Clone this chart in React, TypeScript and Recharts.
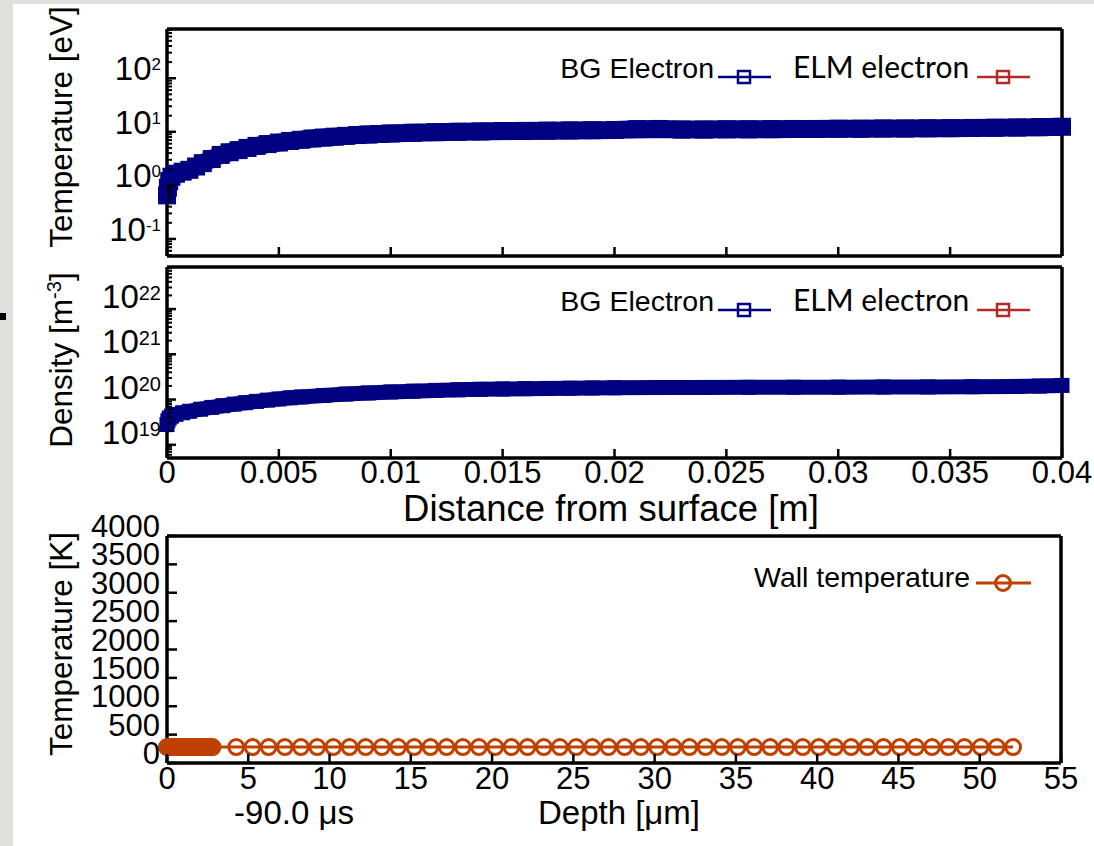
import React from 'react';
import { ScatterChart, Scatter, XAxis, YAxis, Legend } from 'recharts';

const FONT = '"Liberation Sans", Arial, Helvetica, sans-serif';
const ELM_FONT = 'Lato, "Open Sans", sans-serif';
const NAVY = '#000080';
const ELM_RED = '#b22a2a';
const WALL = '#c04000';
const BLACK = '#000';
const PAGE_GRAY = '#e0e0dc';

// ---------------- data ----------------
// Background electron temperature [eV] vs distance from surface [m]
const teDistance = [0, 0.00004, 0.0001, 0.0002, 0.0004, 0.0007, 0.001, 0.0013, 0.0016, 0.002, 0.0024, 0.0028, 0.0032, 0.0036, 0.004, 0.0045, 0.005, 0.0055, 0.006, 0.0065, 0.007, 0.0075, 0.008, 0.0085, 0.009, 0.0095, 0.01, 0.011, 0.012, 0.013, 0.014, 0.015, 0.016, 0.017, 0.018, 0.019, 0.02, 0.021, 0.022, 0.023, 0.024, 0.025, 0.026, 0.027, 0.028, 0.029, 0.03, 0.031, 0.032, 0.033, 0.034, 0.035, 0.036, 0.037, 0.038, 0.039, 0.04];
const teBG = [0.65, 0.9, 1.2, 1.45, 1.65, 1.8, 1.95, 2.25, 2.6, 3.1, 3.7, 4.15, 4.55, 5.0, 5.45, 5.9, 6.3, 6.75, 7.1, 7.5, 7.8, 8.1, 8.4, 8.7, 8.9, 9.1, 9.3, 9.6, 9.85, 10.0, 10.15, 10.3, 10.4, 10.5, 10.6, 10.7, 10.8, 11.2, 11.3, 11.0, 11.0, 11.1, 11.1, 11.2, 11.3, 11.3, 11.4, 11.4, 11.5, 11.5, 11.6, 11.7, 11.8, 11.9, 12.0, 12.2, 12.4];

// Background electron density [m^-3] vs distance from surface [m]
const neDistance = [0, 0.00004, 0.0001, 0.0002, 0.0004, 0.0007, 0.001, 0.0015, 0.002, 0.0025, 0.003, 0.0035, 0.004, 0.0045, 0.005, 0.0055, 0.006, 0.007, 0.008, 0.009, 0.01, 0.011, 0.012, 0.013, 0.014, 0.015, 0.016, 0.017, 0.018, 0.019, 0.02, 0.022, 0.024, 0.026, 0.028, 0.03, 0.032, 0.034, 0.036, 0.038, 0.039, 0.04];
const neBG = [2.8e19, 3.4e19, 3.9e19, 4.3e19, 4.7e19, 5.1e19, 5.5e19, 6.1e19, 6.7e19, 7.3e19, 7.9e19, 8.5e19, 9.1e19, 9.7e19, 1.03e20, 1.09e20, 1.14e20, 1.23e20, 1.32e20, 1.4e20, 1.47e20, 1.53e20, 1.59e20, 1.64e20, 1.68e20, 1.71e20, 1.74e20, 1.76e20, 1.78e20, 1.8e20, 1.82e20, 1.84e20, 1.85e20, 1.86e20, 1.87e20, 1.88e20, 1.89e20, 1.9e20, 1.92e20, 1.95e20, 1.98e20, 2.05e20];

// Wall temperature [K] vs depth [um]
const wallDepth = [0, 0.1, 0.2, 0.3, 0.4, 0.5, 0.6, 0.7, 0.8, 0.9, 1.0, 1.1, 1.2, 1.3, 1.4, 1.5, 1.6, 1.7, 1.8, 1.9, 2.0, 2.1, 2.2, 2.3, 2.4, 2.5, 2.6, 2.7, 2.8, 4.26, 5.26, 6.25, 7.25, 8.24, 9.24, 10.23, 11.23, 12.22, 13.22, 14.22, 15.21, 16.21, 17.2, 18.2, 19.19, 20.19, 21.19, 22.18, 23.18, 24.17, 25.17, 26.16, 27.16, 28.15, 29.15, 30.15, 31.14, 32.14, 33.13, 34.13, 35.12, 36.12, 37.11, 38.11, 39.11, 40.1, 41.1, 42.09, 43.09, 44.08, 45.08, 46.08, 47.07, 48.07, 49.06, 50.06, 51.05, 52.05];
const wallTemperature = [
  280, 280, 280, 280, 280, 280, 280, 280, 280, 280,
  280, 280, 280, 280, 280, 280, 280, 280, 280, 280,
  280, 280, 280, 280, 280, 280, 280, 280, 280, 280,
  280, 280, 280, 280, 280, 280, 280, 280, 280, 280,
  280, 280, 280, 280, 280, 280, 280, 280, 280, 280,
  280, 280, 280, 280, 280, 280, 280, 280, 280, 280,
  280, 280, 280, 280, 280, 280, 280, 280, 280, 280,
  280, 280, 280, 280, 280, 280, 280, 280,
];

// ---------------- ticks ----------------
const distanceTicks = [0, 0.005, 0.01, 0.015, 0.02, 0.025, 0.03, 0.035, 0.04];
const distanceTickLabels = ['0', '0.005', '0.01', '0.015', '0.02', '0.025', '0.03', '0.035', '0.04'];
const teDecades = [0.1, 1, 10, 100];
const teExponents = ['-1', '0', '1', '2'];
const neDecades = [1e19, 1e20, 1e21, 1e22];
const neExponents = ['19', '20', '21', '22'];
const depthTicks = [0, 5, 10, 15, 20, 25, 30, 35, 40, 45, 50, 55];
const depthTickLabels = ['0', '5', '10', '15', '20', '25', '30', '35', '40', '45', '50', '55'];
const wallTempTicks = [0, 500, 1000, 1500, 2000, 2500, 3000, 3500, 4000];
const wallTempTickLabels = ['0', '500', '1000', '1500', '2000', '2500', '3000', '3500', '4000'];

const TE_DOMAIN: [number, number] = [0.048, 830];
const NE_DOMAIN: [number, number] = [5.1e18, 8.5e22];

function logTicks(domain: [number, number]): number[] {
  const out: number[] = [];
  const lo = Math.floor(Math.log10(domain[0]));
  const hi = Math.ceil(Math.log10(domain[1]));
  for (let e = lo; e <= hi; e++) {
    for (let m = 1; m <= 9; m++) {
      const v = Number((m * Math.pow(10, e)).toPrecision(6));
      if (v >= domain[0] && v <= domain[1]) out.push(v);
    }
  }
  return out;
}
const teTicks = logTicks(TE_DOMAIN);
const neTicks = logTicks(NE_DOMAIN);

const teData = teDistance.map((x, i) => ({ x, y: teBG[i] }));
const neData = neDistance.map((x, i) => ({ x, y: neBG[i] }));
const wallData = wallDepth.map((x, i) => ({ x, y: wallTemperature[i] }));

const findIdx = (arr: number[], v: number) =>
  arr.findIndex((a) => Math.abs(a - v) <= Math.abs(a) * 1e-9 + 1e-12);

// ---------------- tick renderers ----------------
const logLeftTick = (decades: number[], exps: string[], supSize: number, supRise: number, baseShift: number) =>
  (p: any) => {
    const i = findIdx(decades, p.payload.value);
    const major = i >= 0;
    return (
      <g>
        <line x1={p.x} x2={p.x + (major ? 9 : 5)} y1={p.y} y2={p.y} stroke={BLACK} strokeWidth={major ? 2.5 : 2} />
        {major && (
          <text x={p.x - 6} y={p.y + baseShift} textAnchor="end" fontFamily={FONT} fontSize={33} fill={BLACK}>
            10
            <tspan dy={-supRise} fontSize={supSize}>{exps[i]}</tspan>
          </text>
        )}
      </g>
    );
  };

const logRightTick = (decades: number[]) => (p: any) => {
  const major = findIdx(decades, p.payload.value) >= 0;
  return <line x1={p.x} x2={p.x - (major ? 9 : 5)} y1={p.y} y2={p.y} stroke={BLACK} strokeWidth={major ? 2.5 : 2} />;
};

const leftLinTick = (values: number[], labels: string[], len: number) => (p: any) => {
  const i = findIdx(values, p.payload.value);
  return (
    <g>
      <line x1={p.x} x2={p.x + len} y1={p.y} y2={p.y} stroke={BLACK} strokeWidth={2.5} />
      <text x={p.x - 7} y={p.y + 1} textAnchor="end" fontFamily={FONT} fontSize={31} fill={BLACK}>
        {labels[i]}
      </text>
    </g>
  );
};

const rightLinTick = (len: number) => (p: any) => (
  <line x1={p.x} x2={p.x - len} y1={p.y} y2={p.y} stroke={BLACK} strokeWidth={2.5} />
);

const topTick = (len: number) => (p: any) => (
  <line x1={p.x} x2={p.x} y1={p.y} y2={p.y + len} stroke={BLACK} strokeWidth={2.5} />
);

const bottomTick = (len: number, values?: number[], labels?: string[], labelDy = 25) => (p: any) => {
  const i = values ? findIdx(values, p.payload.value) : -1;
  return (
    <g>
      <line x1={p.x} x2={p.x} y1={p.y} y2={p.y - len} stroke={BLACK} strokeWidth={2.5} />
      {labels && i >= 0 && (
        <text x={p.x} y={p.y + labelDy} textAnchor="middle" fontFamily={FONT} fontSize={31} fill={BLACK}>
          {labels[i]}
        </text>
      )}
    </g>
  );
};

const AXIS_LINE = { stroke: BLACK, strokeWidth: 3.5 };

// ---------------- markers ----------------
const squareShape = (size: number, color: string) => (p: any) => (
  <rect x={p.cx - size / 2} y={p.cy - size / 2} width={size} height={size} fill={color} />
);
const hollowCircle = (p: any) => (
  <circle cx={p.cx} cy={p.cy} r={7.5} fill="none" stroke={WALL} strokeWidth={3} />
);

// ---------------- legends ----------------
const electronLegend = (baseline: number, h: number) => () => (
  <svg width={1094} height={h} style={{ display: 'block', overflow: 'visible' }}>
    <text x={714} y={baseline} textAnchor="end" fontFamily={FONT} fontSize={28.5} fill={BLACK}>BG Electron</text>
    <line x1={718} x2={771} y1={baseline - 1} y2={baseline - 1} stroke={NAVY} strokeWidth={2.5} />
    <rect x={738} y={baseline - 7} width={12} height={12} fill="none" stroke={NAVY} strokeWidth={2.5} />
    <text x={793} y={baseline} fontFamily={ELM_FONT} fontSize={30} fill={BLACK}>ELM electron</text>
    <line x1={977} x2={1030} y1={baseline - 1} y2={baseline - 1} stroke={ELM_RED} strokeWidth={2.5} />
    <rect x={997} y={baseline - 7} width={12} height={12} fill="none" stroke={ELM_RED} strokeWidth={2.5} />
  </svg>
);

const wallLegend = (baseline: number, h: number) => () => (
  <svg width={1094} height={h} style={{ display: 'block', overflow: 'visible' }}>
    <text x={970} y={baseline} textAnchor="end" fontFamily={FONT} fontSize={28.5} fill={BLACK}>Wall temperature</text>
    <line x1={976} x2={1031} y1={baseline - 4} y2={baseline - 4} stroke={WALL} strokeWidth={3} />
    <circle cx={1003} cy={baseline - 4} r={7.5} fill="none" stroke={WALL} strokeWidth={3} />
  </svg>
);

// ---------------- charts ----------------
const H1 = 262;
const H2 = 268;
const H3 = 341;

function TemperatureChart() {
  return (
    <ScatterChart width={1094} height={H1} margin={{ top: 28, right: 31, bottom: 5, left: 0 }}>
      <XAxis xAxisId="b" dataKey="x" type="number" orientation="bottom" domain={[0, 0.04]} ticks={distanceTicks}
        interval={0} height={1} tickSize={0} tickMargin={0} axisLine={AXIS_LINE} tickLine={false} tick={bottomTick(9)} />
      <XAxis xAxisId="t" type="number" orientation="top" domain={[0, 0.04]} ticks={distanceTicks}
        interval={0} height={1} tickSize={0} tickMargin={0} axisLine={AXIS_LINE} tickLine={false} tick={topTick(9)} />
      <YAxis yAxisId="l" dataKey="y" type="number" scale="log" domain={TE_DOMAIN} ticks={teTicks} interval={0}
        width={167} tickSize={0} tickMargin={0} axisLine={AXIS_LINE} tickLine={false}
        tick={logLeftTick(teDecades, teExponents, 17, 10, 2)}
        label={() => (
          <text x={72} y={127} transform="rotate(-90 72 127)" textAnchor="middle" fontFamily={FONT} fontSize={31.5} fill={BLACK}>
            Temperature [eV]
          </text>
        )} />
      <YAxis yAxisId="r" type="number" orientation="right" scale="log" domain={TE_DOMAIN} ticks={teTicks} interval={0}
        width={1} tickSize={0} tickMargin={0} axisLine={AXIS_LINE} tickLine={false} tick={logRightTick(teDecades)} />
      <Scatter name="BG Electron" data={teData} xAxisId="b" yAxisId="l" fill={NAVY}
        line={{ stroke: NAVY, strokeWidth: 18, strokeLinejoin: 'round' }} shape={squareShape(18, NAVY)} isAnimationActive={false} />
      <Scatter name="ELM electron" data={[]} xAxisId="b" yAxisId="l" fill={ELM_RED} isAnimationActive={false} />
      <Legend layout="horizontal" verticalAlign="middle" align="center" content={electronLegend(78, H1)}
        wrapperStyle={{ left: 0, top: 0, width: 1094, height: H1 }} />
    </ScatterChart>
  );
}

function DensityChart() {
  return (
    <ScatterChart width={1094} height={H2} margin={{ top: 4, right: 31, bottom: 0, left: 0 }}>
      <XAxis xAxisId="b" dataKey="x" type="number" orientation="bottom" domain={[0, 0.04]} ticks={distanceTicks}
        interval={0} height={72} tickSize={0} tickMargin={0} axisLine={AXIS_LINE} tickLine={false}
        tick={bottomTick(9, distanceTicks, distanceTickLabels, 25)}
        label={() => (
          <text x={611} y={259} textAnchor="middle" fontFamily={FONT} fontSize={36.5} fill={BLACK}>
            Distance from surface [m]
          </text>
        )} />
      <XAxis xAxisId="t" type="number" orientation="top" domain={[0, 0.04]} ticks={distanceTicks}
        interval={0} height={1} tickSize={0} tickMargin={0} axisLine={AXIS_LINE} tickLine={false} tick={topTick(9)} />
      <YAxis yAxisId="l" dataKey="y" type="number" scale="log" domain={NE_DOMAIN} ticks={neTicks} interval={0}
        width={167} tickSize={0} tickMargin={0} axisLine={AXIS_LINE} tickLine={false}
        tick={logLeftTick(neDecades, neExponents, 20, 8, -1)}
        label={() => (
          <text x={72} y={98} transform="rotate(-90 72 98)" textAnchor="middle" fontFamily={FONT} fontSize={31.5} fill={BLACK}>
            Density [m<tspan dy={-11} fontSize={20}>-3</tspan><tspan dy={11}>]</tspan>
          </text>
        )} />
      <YAxis yAxisId="r" type="number" orientation="right" scale="log" domain={NE_DOMAIN} ticks={neTicks} interval={0}
        width={1} tickSize={0} tickMargin={0} axisLine={AXIS_LINE} tickLine={false} tick={logRightTick(neDecades)} />
      <Scatter name="BG Electron" data={neData} xAxisId="b" yAxisId="l" fill={NAVY}
        line={{ stroke: NAVY, strokeWidth: 15, strokeLinejoin: 'round' }} shape={squareShape(15, NAVY)} isAnimationActive={false} />
      <Scatter name="ELM electron" data={[]} xAxisId="b" yAxisId="l" fill={ELM_RED} isAnimationActive={false} />
      <Legend layout="horizontal" verticalAlign="middle" align="center" content={electronLegend(49, H2)}
        wrapperStyle={{ left: 0, top: 0, width: 1094, height: H2 }} />
    </ScatterChart>
  );
}

function WallChart() {
  return (
    <ScatterChart width={1094} height={H3} margin={{ top: 30, right: 32, bottom: 0, left: 0 }}>
      <XAxis xAxisId="b" dataKey="x" type="number" orientation="bottom" domain={[0, 55]} ticks={depthTicks}
        interval={0} height={83} tickSize={0} tickMargin={0} axisLine={AXIS_LINE} tickLine={false}
        tick={bottomTick(9, depthTicks, depthTickLabels, 26)}
        label={() => (
          <g>
            <text x={294} y={319} textAnchor="middle" fontFamily={FONT} fontSize={33} fill={BLACK}>-90.0 μs</text>
            <text x={619} y={319} textAnchor="middle" fontFamily={FONT} fontSize={33} fill={BLACK}>Depth [μm]</text>
          </g>
        )} />
      <XAxis xAxisId="t" type="number" orientation="top" domain={[0, 55]} ticks={depthTicks}
        interval={0} height={1} tickSize={0} tickMargin={0} axisLine={AXIS_LINE} tickLine={false} tick={topTick(9)} />
      <YAxis yAxisId="l" dataKey="y" type="number" domain={[0, 4000]} ticks={wallTempTicks} interval={0}
        width={167} tickSize={0} tickMargin={0} axisLine={AXIS_LINE} tickLine={false}
        tick={leftLinTick(wallTempTicks, wallTempTickLabels, 10)}
        label={() => (
          <text x={72} y={139} transform="rotate(-90 72 139)" textAnchor="middle" fontFamily={FONT} fontSize={31.5} fill={BLACK}>
            Temperature [K]
          </text>
        )} />
      <YAxis yAxisId="r" type="number" orientation="right" domain={[0, 4000]} ticks={wallTempTicks} interval={0}
        width={1} tickSize={0} tickMargin={0} axisLine={AXIS_LINE} tickLine={false} tick={rightLinTick(10)} />
      <Scatter name="Wall temperature" data={wallData} xAxisId="b" yAxisId="l" fill={WALL}
        line={{ stroke: WALL, strokeWidth: 3 }} shape={hollowCircle} isAnimationActive={false} />
      <Legend layout="horizontal" verticalAlign="middle" align="center" content={wallLegend(82, H3)}
        wrapperStyle={{ left: 0, top: 0, width: 1094, height: H3 }} />
    </ScatterChart>
  );
}

export default function App() {
  return (
    <div style={{ position: 'absolute', left: 0, top: 0, width: 1094, height: 846, background: PAGE_GRAY, overflow: 'hidden' }}>
      <div style={{ position: 'absolute', left: 13, top: 4, width: 1081, height: 842, background: '#fff' }} />
      <div style={{ position: 'absolute', left: 0, top: 313, width: 6, height: 7, background: BLACK }} />
      <div style={{ position: 'absolute', left: 0, top: 0 }}>
        <TemperatureChart />
      </div>
      <div style={{ position: 'absolute', left: 0, top: 262 }}>
        <DensityChart />
      </div>
      <div style={{ position: 'absolute', left: 0, top: 505 }}>
        <WallChart />
      </div>
    </div>
  );
}
